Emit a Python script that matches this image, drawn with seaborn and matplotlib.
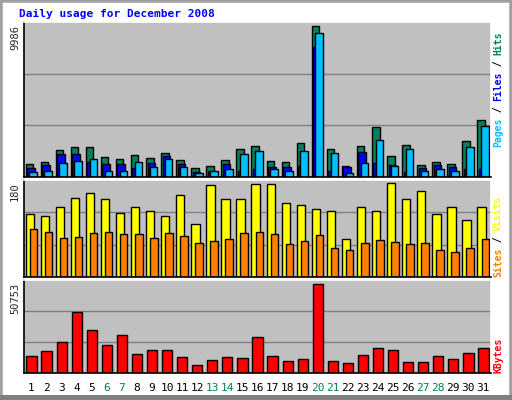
import numpy as np
import matplotlib
matplotlib.use("Agg")
import matplotlib.pyplot as plt
import seaborn as sns
from matplotlib.patches import Rectangle

sns.set_style("white")

days = np.arange(1, 32)
weekend = [6, 7, 13, 14, 20, 21, 27, 28]

hits = [836, 972, 1785, 1988, 1988, 1310, 1175, 1446, 1243, 1582, 1107, 565, 700, 1107, 1853, 2056,
        1040, 972, 2260, 9986, 1853, 700, 2056, 3277, 1378, 2124, 768, 972, 836, 2395, 3751]
files = [565, 768, 1514, 1514, 972, 836, 836, 565, 904, 1378, 836, 362, 429, 836, 429, 497,
         633, 633, 700, 8588, 429, 633, 1650, 904, 768, 362, 565, 768, 633, 497, 497]
pages = [362, 429, 904, 1040, 1175, 429, 429, 972, 633, 1175, 633, 294, 429, 497, 1514, 1718,
         497, 429, 1718, 9515, 1582, 294, 904, 2463, 700, 1853, 429, 497, 429, 1988, 3345]
visits = [117, 113, 129, 147, 155, 144, 119, 129, 123, 113, 153, 98, 170, 144, 144, 172,
          172, 138, 134, 127, 123, 70, 129, 123, 174, 144, 159, 117, 129, 106, 130]
sites = [89, 83, 72, 74, 82, 83, 80, 80, 72, 82, 76, 63, 66, 70, 82, 83,
         80, 61, 66, 78, 53, 51, 63, 68, 65, 61, 63, 51, 46, 53, 70]
kbytes = [9516, 12315, 17726, 34520, 24443, 16047, 21645, 11009, 13248, 13248, 9330, 4292, 7650, 9330, 8770, 20525,
          9889, 7090, 8210, 50753, 7090, 5971, 10449, 14368, 13248, 6531, 6531, 9889, 8210, 11569, 14368]

C_HITS, C_FILES, C_PAGES = "#00805c", "#0000ff", "#00c0ff"
C_VIS, C_SITES, C_KB = "#ffff00", "#ff8000", "#ff0000"
BG, GRID = "#c0c0c0", "#808080"
W, H = 512, 400

fig = plt.figure(figsize=(5.12, 4.0), dpi=100, facecolor="white")
# outer frame
fig.add_artist(Rectangle((0, 0), 1, 1, transform=fig.transFigure, fill=False, lw=4, ec="#a0a0a0"))
fig.add_artist(Rectangle((0, 0), 1, 5 / H, transform=fig.transFigure, color="#808080", lw=0))


def panel(top, bottom):
    ax = fig.add_axes([24 / W, (H - bottom) / H, 467 / W, (bottom - top) / H])
    ax.set_facecolor(BG)
    ax.set_xlim(0.5, 31.5)
    ax.set_xticks([])
    ax.set_yticks([])
    for s in ax.spines.values():
        s.set_color("black")
        s.set_linewidth(1.2)
    ax.spines["top"].set_color("white")
    ax.spines["right"].set_color("white")
    return ax


kw = dict(edgecolor="black", linewidth=1, align="edge")

# top: hits / files / pages
ax1 = panel(22, 177)
ymax = max(hits) * 1.027
ax1.set_ylim(0, ymax)
for g in (ymax / 3, 2 * ymax / 3):
    ax1.axhline(g, color=GRID, lw=1, zorder=0)
ax1.bar(days - 0.4, hits, width=0.5, color=C_HITS, **kw)
ax1.bar(days - 0.3, files, width=0.5, color=C_FILES, **kw)
ax1.bar(days - 0.15, pages, width=0.5, color=C_PAGES, **kw)

# middle: visits / sites
ax2 = panel(180, 277)
ax2.set_ylim(0, 180)
for g in (60, 120):
    ax2.axhline(g, color=GRID, lw=1, zorder=0)
ax2.bar(days - 0.4, visits, width=0.55, color=C_VIS, **kw)
ax2.bar(days - 0.13, sites, width=0.5, color=C_SITES, **kw)

# bottom: kbytes
ax3 = panel(280, 373)
kmax = max(kbytes) * 1.044
ax3.set_ylim(0, kmax)
for g in (kmax / 3, 2 * kmax / 3):
    ax3.axhline(g, color=GRID, lw=1, zorder=0)
sns.barplot(x=days.astype(float), y=kbytes, native_scale=True, color=C_KB, saturation=1,
            edgecolor="black", linewidth=1, width=0.68, ax=ax3)
ax3.set_xlim(0.5, 31.5)
ax3.set_ylim(0, kmax)
ax3.set_xticks([])
ax3.set_yticks([])
ax3.set_xlabel("")
ax3.set_ylabel("")

mono = "DejaVu Sans Mono"
fig.text(19 / W, 1 - 14 / H, "Daily usage for December 2008", color="#0000ff", family=mono,
         fontweight="bold", fontsize=8, va="center")

# left max labels
for txt, ytop in (("9986", 25), ("180", 182), ("50753", 283)):
    fig.text(15 / W, 1 - ytop / H, txt, rotation=90, family=mono, fontsize=7.5, ha="center", va="top")

# day labels
for d in days:
    x = 24 + (d - 0.5) / 31 * 467
    fig.text(x / W, 1 - 388 / H, str(d), ha="center", va="center", fontsize=8,
             family=mono, color=C_HITS if d in weekend else "black")


def side_label(parts, ybottom):
    y = ybottom
    for txt, col in parts:
        fig.text(498 / W, 1 - y / H, txt, rotation=90, family=mono, fontsize=7, color=col,
                 fontweight="bold", ha="center", va="bottom")
        y -= len(txt) * 5.75


side_label([("Pages", C_PAGES), (" / ", "black"), ("Files", C_FILES), (" / ", "black"), ("Hits", C_HITS)], 147)
side_label([("Sites", C_SITES), (" / ", "black"), ("Visits", C_VIS)], 277)
side_label([("KBytes", C_KB)], 373)

fig.savefig("out.png", dpi=100, facecolor="white")
